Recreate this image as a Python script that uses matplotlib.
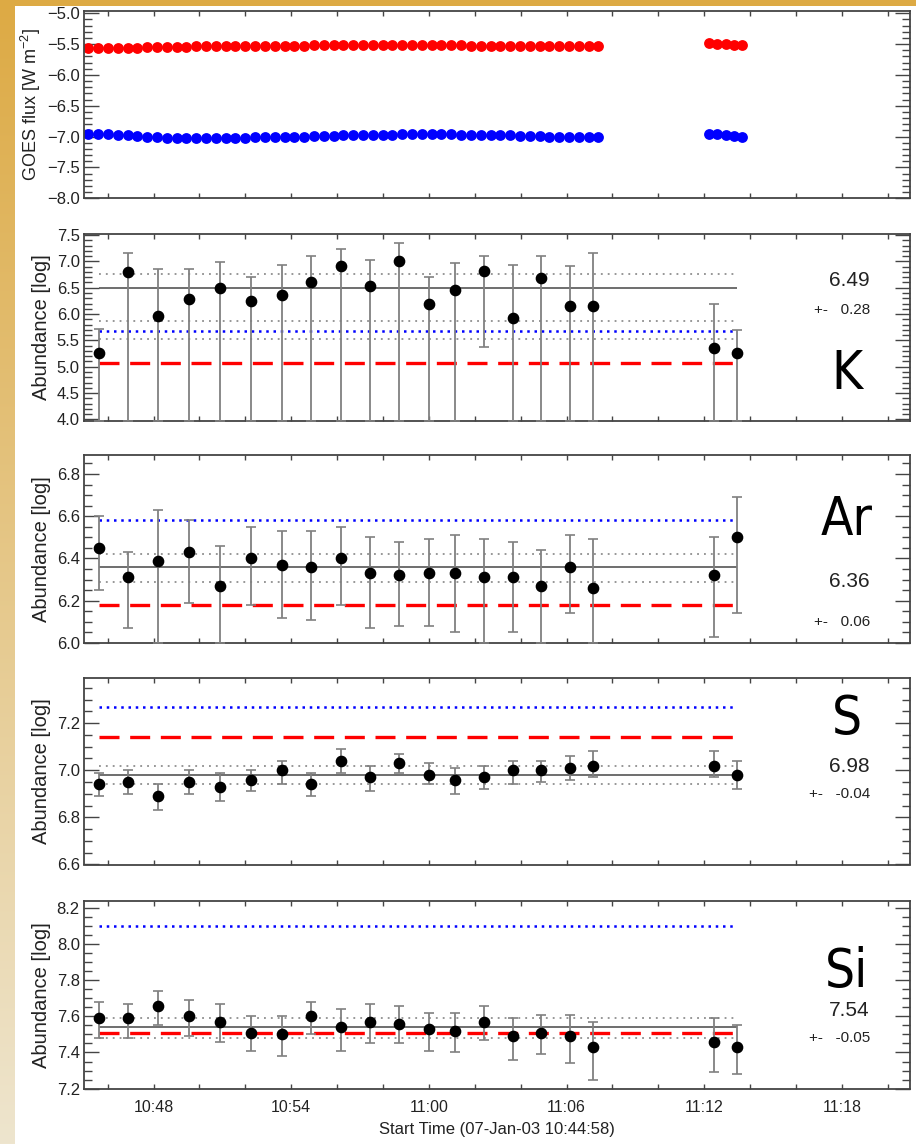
import numpy as np
import matplotlib
matplotlib.use("Agg")
import matplotlib.pyplot as plt
from matplotlib import font_manager as fm
from matplotlib.ticker import MultipleLocator, FixedLocator, FuncFormatter

plt.rcParams['font.family'] = ['Liberation Sans', 'DejaVu Sans']
plt.rcParams['mathtext.fontset'] = 'custom'
plt.rcParams['mathtext.rm'] = 'Liberation Sans'
plt.rcParams['mathtext.default'] = 'rm'

# ---------------- data ----------------
START_CLOCK = 10 * 60 + 44 + 58 / 60.0   # 10:44:58 in minutes of day
XSPAN = 36.0                              # minutes shown

# GOES (log flux), two sampling blocks
goes_t1_start, goes_t1_step = 0.19, 0.4275
goes_t2_start, goes_t2_step = 27.25, 0.36
goes_long1 = [-5.57, -5.57, -5.56, -5.56, -5.56, -5.56, -5.55, -5.55, -5.55, -5.55,
              -5.55, -5.54, -5.54, -5.54, -5.54, -5.54, -5.54, -5.53, -5.53, -5.53,
              -5.53, -5.53, -5.53, -5.52, -5.52, -5.52, -5.52, -5.52, -5.52, -5.52,
              -5.52, -5.52, -5.52, -5.52, -5.52, -5.52, -5.52, -5.52, -5.52, -5.53,
              -5.53, -5.53, -5.53, -5.53, -5.53, -5.53, -5.53, -5.53, -5.53, -5.53,
              -5.53, -5.53, -5.53]
goes_short1 = [-6.95, -6.95, -6.96, -6.97, -6.98, -6.99, -7.00, -7.01, -7.02, -7.02,
               -7.03, -7.03, -7.03, -7.03, -7.02, -7.02, -7.02, -7.01, -7.01, -7.01,
               -7.00, -7.00, -7.00, -6.99, -6.99, -6.99, -6.98, -6.98, -6.98, -6.97,
               -6.97, -6.97, -6.96, -6.96, -6.96, -6.96, -6.96, -6.96, -6.97, -6.97,
               -6.97, -6.98, -6.98, -6.98, -6.99, -6.99, -6.99, -7.00, -7.00, -7.00,
               -7.01, -7.01, -7.01]
goes_long2 = [-5.49, -5.50, -5.50, -5.51, -5.51]
goes_short2 = [-6.95, -6.96, -6.98, -6.99, -7.01]

# spectra start times (minutes after 10:44:58)
t_spec = [0.64, 1.93, 3.22, 4.56, 5.92, 7.30, 8.61, 9.88, 11.18, 12.46,
          13.74, 15.02, 16.15, 17.43, 18.68, 19.93, 21.16, 22.17, 27.47, 28.44]

k_val = [5.26, 6.80, 5.96, 6.29, 6.49, 6.24, 6.36, 6.60, 6.92, 6.54,
         7.01, 6.20, 6.46, 6.81, 5.93, 6.68, 6.15, 6.15, 5.35, 5.26]
k_hi = [5.72, 7.16, 6.86, 6.86, 6.99, 6.70, 6.94, 7.10, 7.24, 7.02,
        7.34, 6.70, 6.97, 7.10, 6.94, 7.10, 6.92, 7.16, 6.19, 5.70]
k_lo = [None, None, None, None, None, None, None, None, None, None,
        None, None, None, 5.38, None, None, None, None, None, None]

ar_val = [6.45, 6.31, 6.39, 6.43, 6.27, 6.40, 6.37, 6.36, 6.40, 6.33,
          6.32, 6.33, 6.33, 6.31, 6.31, 6.27, 6.36, 6.26, 6.32, 6.50]
ar_hi = [6.60, 6.43, 6.63, 6.58, 6.46, 6.55, 6.53, 6.53, 6.55, 6.50,
         6.48, 6.49, 6.51, 6.49, 6.48, 6.44, 6.51, 6.49, 6.50, 6.69]
ar_lo = [6.25, 6.07, None, 6.19, None, 6.18, 6.12, 6.11, 6.18, 6.07,
         6.08, 6.08, 6.05, None, 6.05, None, 6.14, None, 6.03, 6.14]

s_val = [6.94, 6.95, 6.89, 6.95, 6.93, 6.96, 7.00, 6.94, 7.04, 6.97,
         7.03, 6.98, 6.96, 6.97, 7.00, 7.00, 7.01, 7.02, 7.02, 6.98]
s_hi = [6.99, 7.00, 6.94, 7.00, 6.99, 7.00, 7.04, 6.99, 7.09, 7.02,
        7.07, 7.03, 7.01, 7.02, 7.04, 7.04, 7.06, 7.08, 7.08, 7.04]
s_lo = [6.89, 6.90, 6.83, 6.90, 6.87, 6.91, 6.94, 6.89, 6.99, 6.91,
        6.99, 6.94, 6.90, 6.92, 6.94, 6.95, 6.96, 6.97, 6.97, 6.92]

si_val = [7.59, 7.59, 7.66, 7.60, 7.57, 7.51, 7.50, 7.60, 7.54, 7.57,
          7.56, 7.53, 7.52, 7.57, 7.49, 7.51, 7.49, 7.43, 7.46, 7.43]
si_hi = [7.68, 7.67, 7.74, 7.69, 7.67, 7.60, 7.60, 7.68, 7.64, 7.67,
         7.66, 7.62, 7.62, 7.66, 7.59, 7.61, 7.61, 7.57, 7.59, 7.55]
si_lo = [7.48, 7.48, 7.55, 7.49, 7.46, 7.41, 7.38, 7.50, 7.41, 7.45,
         7.45, 7.41, 7.40, 7.47, 7.36, 7.39, 7.34, 7.25, 7.29, 7.28]

# reference levels per element: mean, dotted band, blue (dotted), red (dashed)
elements = ['K', 'Ar', 'S', 'Si']
el_mean = [6.49, 6.36, 6.98, 7.54]
el_err_text = ['0.28', '0.06', '-0.04', '-0.05']
el_band = [[6.77, 5.87, 5.52], [6.42, 6.29], [7.02, 6.94], [7.59, 7.48]]
el_blue = [5.67, 6.58, 7.27, 8.10]
el_red = [5.08, 6.18, 7.14, 7.51]
el_ylim = [(3.97, 7.52), (5.998, 6.89), (6.6, 7.39), (7.198, 8.24)]
el_major = [0.5, 0.2, 0.2, 0.2]
el_minor = [0.1, 0.05, 0.05, 0.05]

# ---------------- condensed font for the element symbols ----------------
big_family, big_stretch, big_size = 'Liberation Sans', 'normal', 36
names = {(f.name, str(f.stretch)) for f in fm.fontManager.ttflist}
if any(n == 'Liberation Sans Narrow' for n, _ in names):
    big_family, big_stretch, big_size = 'Liberation Sans Narrow', 'normal', 40
elif ('DejaVu Sans', 'condensed') in names:
    big_family, big_stretch, big_size = 'DejaVu Sans', 'condensed', 38

# ---------------- figure ----------------
W, H = 916, 1144
fig = plt.figure(figsize=(W / 100, H / 100), dpi=100)

# golden frame background
bg = fig.add_axes([0, 0, 1, 1], zorder=-10)
img = np.ones((H, W, 3))
c_top = np.array([221, 170, 68]) / 255.0
c_bot = np.array([238, 229, 206]) / 255.0
frac = np.linspace(0, 1, H)[:, None]
grad = c_top * (1 - frac) + c_bot * frac
img[:, :15, :] = grad[:, None, :]
img[:6, :, :] = c_top
bg.imshow(img, aspect='auto', extent=[0, 1, 0, 1], interpolation='nearest')
bg.axis('off')

FRAME = '#444444'
TXT = '#222222'


def panel(top_px, bot_px):
    return fig.add_axes([84 / W, 1 - bot_px / H, 826 / W, (bot_px - top_px) / H])


def clock_fmt(t, pos=None):
    total = int(round(START_CLOCK + t))
    h, m = divmod(total, 60)
    return f"{h:02d}:{m:02d}"


def yfmt(v, pos=None):
    return f"{v:.1f}".replace('-', '\u2212')


major_x = [c - START_CLOCK for c in range(648, 648 + 36, 6)]
minor_x = [c - START_CLOCK for c in range(646, 646 + 36, 2)]


def style(ax, major, minor, last=False):
    ax.set_xlim(0, XSPAN)
    ax.xaxis.set_major_locator(FixedLocator(major_x))
    ax.xaxis.set_minor_locator(FixedLocator(minor_x))
    ax.xaxis.set_major_formatter(FuncFormatter(clock_fmt))
    ax.yaxis.set_major_locator(MultipleLocator(major))
    ax.yaxis.set_minor_locator(MultipleLocator(minor))
    ax.yaxis.set_major_formatter(FuncFormatter(yfmt))
    ax.tick_params(axis='both', which='both', direction='in', top=True, right=True,
                   color=FRAME, labelcolor=TXT, width=1.0)
    ax.tick_params(axis='y', which='major', length=11, labelsize=12, pad=3)
    ax.tick_params(axis='y', which='minor', length=5.5)
    ax.tick_params(axis='x', which='both', length=3.5, labelsize=11.5, pad=8)
    ax.tick_params(axis='x', labelbottom=last)
    for s in ax.spines.values():
        s.set_color(FRAME)
        s.set_linewidth(1.3)


# GOES panel
ax0 = panel(10.7, 198.3)
t1 = goes_t1_start + goes_t1_step * np.arange(len(goes_long1))
t2 = goes_t2_start + goes_t2_step * np.arange(len(goes_long2))
for tt, lv, sv in [(t1, goes_long1, goes_short1), (t2, goes_long2, goes_short2)]:
    ax0.plot(tt, lv, 'o', color='#ff0000', ms=7.8, mew=0)
    ax0.plot(tt, sv, 'o', color='#0000ff', ms=7.8, mew=0)
ax0.set_ylim(-8.0, -4.96)
style(ax0, 0.5, 0.1)
ax0.set_ylabel('GOES flux [W m$^{-2}$]', fontsize=13, color=TXT)
ax0.yaxis.set_label_coords(-0.050, 0.5)

# abundance panels
tops = [234.0, 455.0, 678.3, 900.7]
bots = [421.0, 643.3, 864.5, 1089.0]
vals = [k_val, ar_val, s_val, si_val]
his = [k_hi, ar_hi, s_hi, si_hi]
los = [k_lo, ar_lo, s_lo, si_lo]
# text positions (pixels): big letter centre y, value y, error y
big_y = [374, 520, 719, 972]
num_y = [281, 581, 767, 1010]
err_y = [310, 622, 794, 1038]

ts = np.array(t_spec)
for i in range(4):
    ax = panel(tops[i], bots[i])
    ylo, yhi = el_ylim[i]
    v = np.array(vals[i])
    lo = np.array([ylo if x is None else x for x in los[i]])
    hi = np.array(his[i])
    t0, t9 = ts[0], ts[-1]
    ax.hlines(el_mean[i], t0, t9, colors='#555555', lw=1.2, zorder=2)
    for b in el_band[i]:
        ax.hlines(b, t0, t9, colors='#7a7a7a', lw=1.1, linestyles=[(0, (1.2, 3.3))], zorder=2)
    ax.hlines(el_blue[i], t0, t9, colors='#0000ff', lw=1.8, linestyles=[(0, (1.0, 1.9))], zorder=2)
    ax.hlines(el_red[i], t0, t9, colors='#ff0000', lw=2.4, linestyles=[(0, (6.0, 3.2))], zorder=2)
    ax.errorbar(ts, v, yerr=[v - lo, hi - v], fmt='o', color='black', ms=7.4,
                ecolor='#808080', elinewidth=1.3, capsize=3.5, capthick=1.2, zorder=3)
    ax.set_ylim(ylo, yhi)
    style(ax, el_major[i], el_minor[i], last=(i == 3))
    ax.set_ylabel('Abundance [log]', fontsize=14.5, color=TXT)
    ax.yaxis.set_label_coords(-0.040, 0.5)

    fig.text(847 / W, 1 - big_y[i] / H, elements[i], fontsize=big_size,
             family=[big_family, 'Liberation Sans', 'DejaVu Sans'], fontstretch=big_stretch,
             ha='center', va='center', color='black')
    fig.text(870 / W, 1 - num_y[i] / H, f"{el_mean[i]:.2f}", fontsize=15,
             ha='right', va='center', color=TXT)
    fig.text(870 / W, 1 - err_y[i] / H, f"+-   {el_err_text[i]}", fontsize=11,
             ha='right', va='center', color=TXT)
    if i == 3:
        ax.set_xlabel('Start Time (07-Jan-03 10:44:58)', fontsize=12, color=TXT)
        ax.xaxis.set_label_coords(0.5, -0.175)

fig.savefig('out.png', dpi=100)
